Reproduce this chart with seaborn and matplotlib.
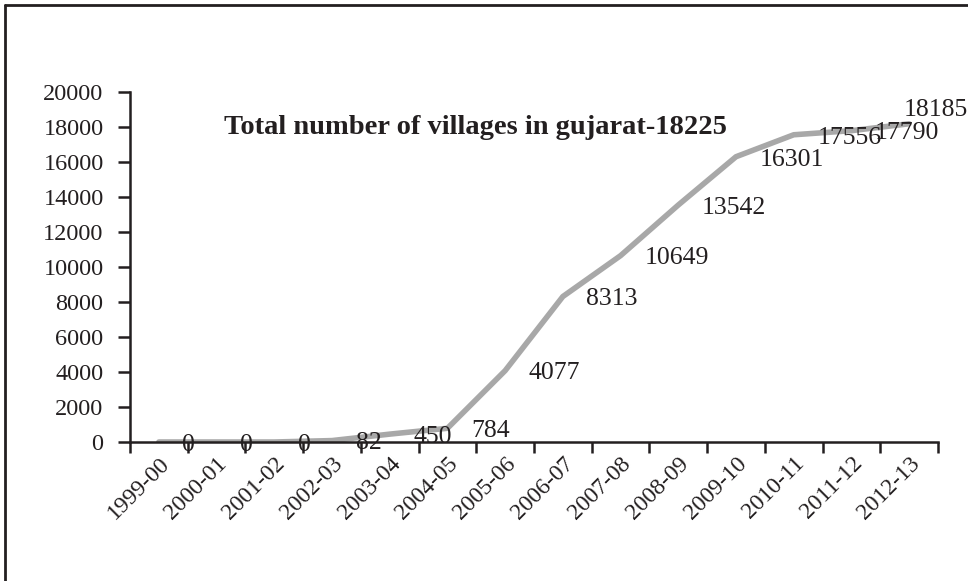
import numpy as np
import pandas as pd
import matplotlib
matplotlib.use('Agg')
import matplotlib.pyplot as plt
import seaborn as sns
from matplotlib.lines import Line2D

# chart data
years = ["1999-00", "2000-01", "2001-02", "2002-03", "2003-04", "2004-05", "2005-06",
         "2006-07", "2007-08", "2008-09", "2009-10", "2010-11", "2011-12", "2012-13"]
villages = [0, 0, 0, 82, 450, 784, 4077, 8313, 10649, 13542, 16301, 17556, 17790, 18185]
y_ticks = list(range(0, 20001, 2000))
title_text = "Total number of villages in gujarat-18225"

df = pd.DataFrame({"year": years, "villages": villages})

sns.set_style("ticks")
plt.rcParams['font.family'] = ['Liberation Serif', 'DejaVu Serif']
ink = "#231f20"

fig = plt.figure(figsize=(9.68, 5.81), dpi=100)
ax = fig.add_axes([130 / 968, 1 - 442 / 581, 808 / 968, 350 / 581])

sns.lineplot(data=df, x="year", y="villages", ax=ax, color="#a8a8a8",
             linewidth=4, sort=False, zorder=2)

ax.set_xlim(-0.5, len(years) - 0.5)
ax.set_ylim(0, 20000)
ax.set_yticks(y_ticks)
ax.set_yticklabels([str(t) for t in y_ticks])

# major ticks on category borders, labels at category centres
ax.set_xticks(np.arange(-0.5, len(years), 1))
ax.set_xticklabels([])
ax.set_xticks(np.arange(len(years)), minor=True)
ax.set_xticklabels(years, minor=True, rotation=45, ha="right",
                   rotation_mode="anchor", fontsize=17, color=ink)
ax.tick_params(axis="x", which="minor", length=0, pad=8)
ax.tick_params(axis="x", which="major", length=8, width=1.8, color=ink)
ax.tick_params(axis="y", length=9, width=1.8, color=ink, pad=10,
               labelsize=17.5, labelcolor=ink)

for side in ["top", "right"]:
    ax.spines[side].set_visible(False)
for side in ["left", "bottom"]:
    ax.spines[side].set_linewidth(1.8)
    ax.spines[side].set_color(ink)
    ax.spines[side].set_zorder(3)

ax.set_xlabel("")
ax.set_ylabel("")

# value labels, right of each point; the last one sits above its point
for i, v in enumerate(villages):
    offset = (17, -2) if i < len(villages) - 1 else (-4, 10)
    ax.annotate(str(v), (i, v), xytext=offset, textcoords="offset points",
                ha="left", va="center", fontsize=18.5, color=ink,
                zorder=5, annotation_clip=False)

ax.text(0.427, 0.9, title_text, transform=ax.transAxes, ha="center",
        va="center", fontsize=20.5, fontweight="bold", color=ink)

# frame around the figure (top and left edges)
fig.add_artist(Line2D([5 / 968, 1], [1 - 5 / 581, 1 - 5 / 581], color=ink, lw=2))
fig.add_artist(Line2D([5 / 968, 5 / 968], [0, 1 - 5 / 581], color=ink, lw=2))

fig.savefig("out.png", dpi=100, facecolor="white")
